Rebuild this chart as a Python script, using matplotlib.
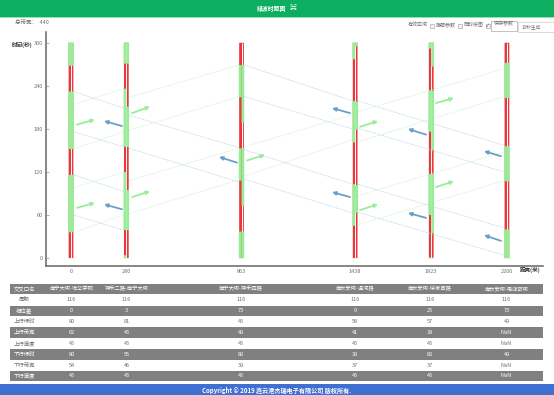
import matplotlib.pyplot as plt

plt.rcParams['font.family'] = ['Noto Sans CJK SC', 'DejaVu Sans']

# intersections
dist = [0, 280, 863, 1438, 1823, 2206]
names = ["南宁大街-培华学院", "神禾二路-南宁大街", "南宁大街-神禾四路", "南长安街-温河路", "南长安街-徐家寨路", "南长安街-电店故街"]
cycle = 116

# table rows
row_names = ["周期", "相位差", "上行绿时", "上行带宽", "上行速度", "下行绿时", "下行带宽", "下行速度"]
period = [116, 116, 116, 116, 116, 116]
offset = [0, 3, 73, 9, 25, 73]
up_green = [80, 81, 45, 58, 57, 49]
up_band = [62, 45, 40, 41, 39, "NaN"]
up_speed = [45, 45, 45, 45, 45, "NaN"]
down_green = [80, 56, 80, 39, 82, 49]
down_band = [54, 46, 39, 37, 37, "NaN"]
down_speed = [45, 45, 45, 45, 45, "NaN"]

# start of first green in the cycle
up_start = [36, 39, 108, 45, 60, 107]
down_start = [36, 39, 73, 63, 35, 107]

# green wave band edges (upstream direction)
up_x0 = [0, 0, 0, 0, 280, 280, 280, 280, 863, 863, 1438, 1438, 1438, 1438]
up_x1 = [280, 280, 280, 280, 863, 863, 863, 863, 1438, 1438, 2206, 2206, 2206, 2206]
up_t0 = [36, 98, 152, 214, 62, 108, 178, 224, 114, 155, 46, 87, 162, 204]
up_t1 = [60, 120, 176, 236, 109, 153, 225, 269, 165, 200, 108, 148, 225, 264]

# band edges (downstream direction)
down_x0 = [0, 0, 0, 0, 280, 280, 863, 863, 863, 863, 1438, 1438, 1438, 1438]
down_x1 = [280, 280, 280, 280, 863, 863, 1438, 1438, 1438, 1438, 2206, 2206, 2206, 2206]
down_t0 = [116, 60, 232, 176, 199, 153, 269, 225, 151, 110, 219, 181, 103, 64]
down_t1 = [93, 39, 209, 155, 154, 106, 219, 180, 103, 63, 157, 120, 42, 4]

# direction arrows
green_arrow_x0 = [30, 30, 309, 309, 891, 1463, 1463, 1847, 1847]
green_arrow_x1 = [121, 121, 400, 400, 982, 1554, 1554, 1938, 1938]
green_arrow_t0 = [186, 70, 202, 85, 136, 183, 67, 216, 99]
green_arrow_t1 = [193, 77, 211, 93, 144, 191, 75, 223, 107]
blue_arrow_x0 = [258, 258, 840, 1412, 1412, 1797, 1797, 2176, 2176]
blue_arrow_x1 = [167, 167, 749, 1321, 1321, 1705, 1705, 2090, 2090]
blue_arrow_t0 = [184, 68, 133, 202, 85, 172, 56, 142, 24]
blue_arrow_t1 = [191, 75, 141, 209, 92, 180, 63, 149, 32]

W, H = 554, 395
RED = "#e8383c"
GREEN = "#98ee98"
GRAY = "#808080"
TXT = "#707070"

fig = plt.figure(figsize=(W / 100, H / 100), dpi=100)

# page level things in pixel coordinates
page = fig.add_axes([0, 0, 1, 1])
page.set_xlim(0, W)
page.set_ylim(H, 0)
page.axis("off")

page.axhspan(0, 17, color="#0dae5f", lw=0)
page.axhspan(17, 17.7, color="#9adfbd", lw=0)
page.text(271.5, 8.5, "绿波时距图", color="white", fontsize=4.2, fontweight="bold", ha="center", va="center")
page.text(293, 8.5, "⌘", color="white", fontsize=5, ha="center", va="center")
page.text(15, 22, "总带宽：  440", color=TXT, fontsize=4, va="center")

# controls top right
for label, xt, xb, checked in [("有效区域", 408, 430, False), ("隐藏参数", 436, 458, False), ("同时绘图", 464, 486, True)]:
    page.text(xt, 25, label, color=TXT, fontsize=3.6, va="center")
    page.add_patch(plt.Rectangle((xb, 23.5), 4, 4, fc="#f4f4f4", ec="#999999", lw=0.4))
    if checked:
        page.text(xb + 2, 25.5, "✓", color="#444444", fontsize=3.5, ha="center", va="center")
page.add_patch(plt.Rectangle((491, 21), 26, 10, fc="white", ec="#aaaaaa", lw=0.5))
page.text(504, 24, "保存参数", color=TXT, fontsize=3.6, ha="center", va="center")
page.add_patch(plt.Rectangle((518, 21.5), 40, 10.5, fc="white", ec="#cccccc", lw=0.5))
page.text(522, 26.5, "10秒生成", color=TXT, fontsize=3.4, va="center")

# table
col_x = [24, 71.5, 126.5, 241, 355, 430, 506.5]
table_rows = [period, offset, up_green, up_band, up_speed, down_green, down_band, down_speed]
top = 283.5
row_h = 10.87
page.axhspan(top, top + row_h, xmin=10 / W, xmax=543 / W, color=GRAY, lw=0)
page.text(col_x[0], top + row_h / 2, "交叉口名", color="white", fontsize=3.9, ha="center", va="center")
for cx, n in zip(col_x[1:], names):
    page.text(cx, top + row_h / 2, n, color="white", fontsize=3.8, ha="center", va="center")
for i, (rn, vals) in enumerate(zip(row_names, table_rows)):
    y0 = top + row_h * (i + 1)
    shaded = i % 2 == 1
    if shaded:
        page.axhspan(y0 + 0.4, y0 + row_h, xmin=10 / W, xmax=543 / W, color=GRAY, lw=0)
    c = "white" if shaded else TXT
    page.text(col_x[0], y0 + row_h / 2, rn, color=c, fontsize=3.9, ha="center", va="center")
    for cx, v in zip(col_x[1:], vals):
        page.text(cx, y0 + row_h / 2, str(v), color=c, fontsize=4, ha="center", va="center")

# footer
page.axhspan(384, 395, color="#3f6fd1", lw=0)
page.text(277, 390, "Copyright © 2019 连云港杰瑞电子有限公司 版权所有.", color="white", fontsize=4.4,
          fontweight="bold", ha="center", va="center")

# time-distance diagram, placed so that x=0 is px 71 and t=0 is px 258
ax = fig.add_axes([46 / W, 1 - 266 / H, (543 - 46) / W, (266 - 32) / H])
ax.patch.set_alpha(0)
ax.set_xlim(-126.5, 2388.6)
ax.set_ylim(-11, 315)
for s in ["top", "right"]:
    ax.spines[s].set_visible(False)
for s in ["left", "bottom"]:
    ax.spines[s].set_color("#666666")
    ax.spines[s].set_linewidth(1.1)
ax.set_xticks(dist)
ax.set_yticks([0, 60, 120, 180, 240, 300])
ax.tick_params(axis="x", length=0, pad=2.5, labelsize=4, labelcolor=TXT)
ax.tick_params(axis="y", direction="in", length=2, width=0.5, color="#999999", pad=2.2, labelsize=4, labelcolor=TXT)

half = 14
for x, us, ud, gu, gd in zip(dist, up_start, down_start, up_green, down_green):
    # red underneath with a white slit, a bit narrower so no red bleeds around green
    ax.bar(x - half + 2, 300, bottom=0, width=2 * half - 4, align="edge", color=RED, lw=0, snap=False)
    ax.plot([x, x], [0, 300], color="white", lw=0.7, solid_capstyle="butt")
    for k in range(-1, 4):
        for start, dur, left in [(us, gu, x - half), (ud, gd, x)]:
            t0 = max(start + k * cycle, 0)
            t1 = min(start + k * cycle + dur, 300)
            if t1 > t0:
                ax.bar(left, t1 - t0, bottom=t0, width=half, align="edge", color=GREEN, lw=0, snap=False, zorder=3)

for x0, x1, t0, t1 in zip(up_x0, up_x1, up_t0, up_t1):
    ax.plot([x0 + half, x1 - half], [t0, t1], color="#d2f4d2", lw=0.55, ls=(0, (2.5, 1.2)))
for x0, x1, t0, t1 in zip(down_x0, down_x1, down_t0, down_t1):
    ax.plot([x0 + half, x1 - half], [t0, t1], color="#c4d7ea", lw=0.55, ls=(0, (2.5, 1.2)))

for x0, x1, t0, t1 in zip(green_arrow_x0, green_arrow_x1, green_arrow_t0, green_arrow_t1):
    ax.annotate("", xy=(x1, t1), xytext=(x0, t0),
                arrowprops=dict(arrowstyle="-|>", color=GREEN, lw=1.3, mutation_scale=5, shrinkA=0, shrinkB=0))
for x0, x1, t0, t1 in zip(blue_arrow_x0, blue_arrow_x1, blue_arrow_t0, blue_arrow_t1):
    ax.annotate("", xy=(x1, t1), xytext=(x0, t0),
                arrowprops=dict(arrowstyle="-|>", color="#6a9fc8", lw=1.3, mutation_scale=5, shrinkA=0, shrinkB=0))

page.text(22, 45, "时间(秒)", color="#333333", fontsize=4, fontweight="bold", ha="center", va="center")
page.text(530.5, 269.5, "距离(米)", color="#333333", fontsize=4, fontweight="bold", ha="center", va="center")

plt.savefig("out.png", dpi=100)
plt.close()
